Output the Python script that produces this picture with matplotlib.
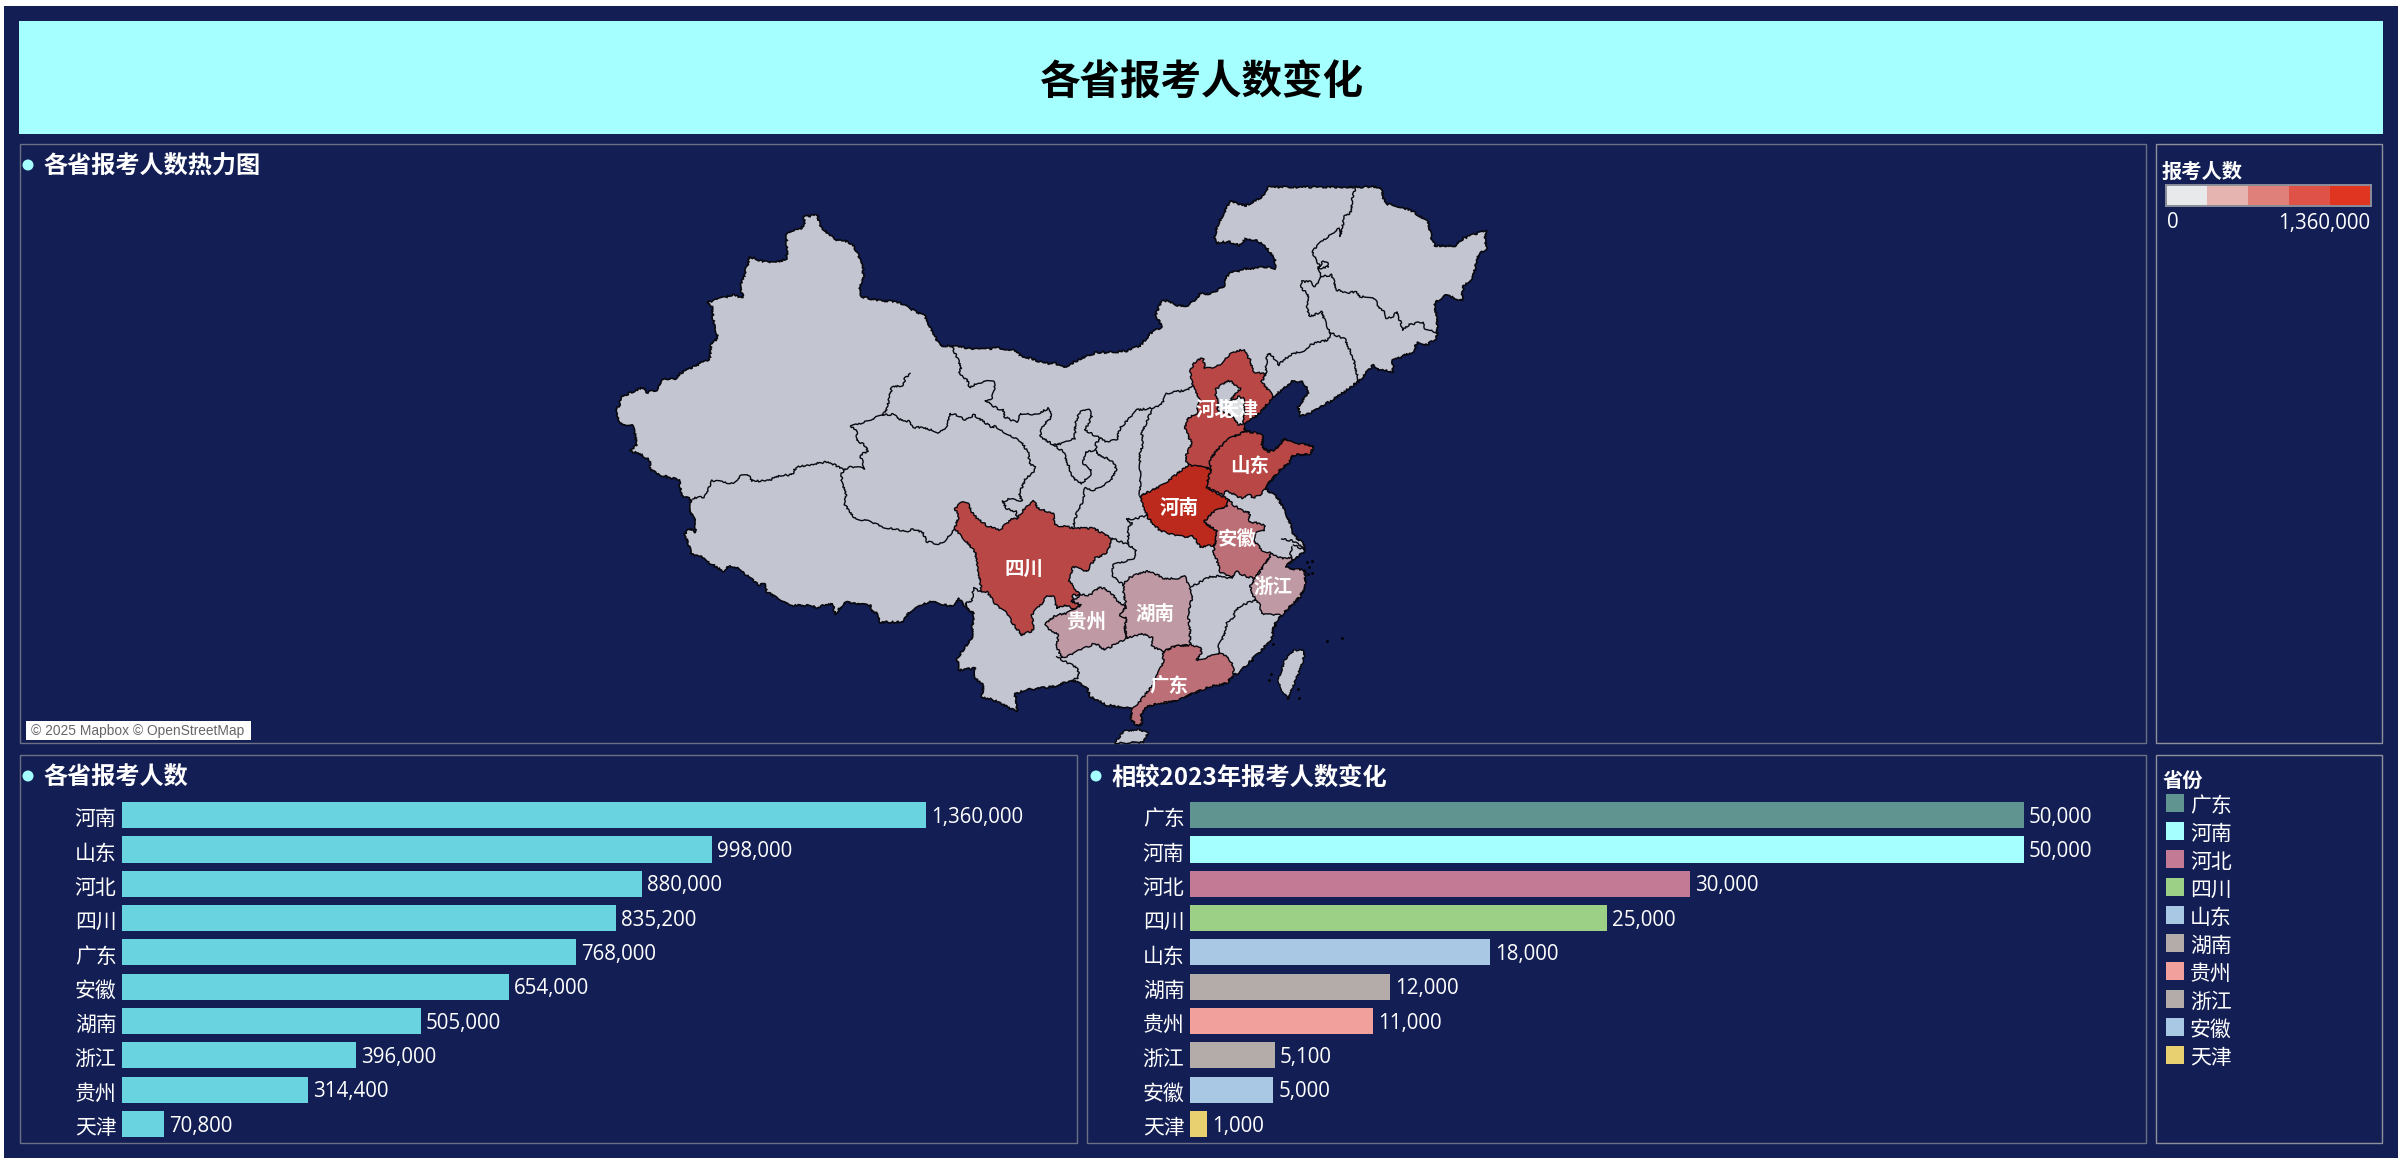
import numpy as np
import matplotlib
matplotlib.use('Agg')
import matplotlib.pyplot as plt
from matplotlib.colors import ListedColormap
from matplotlib.patches import Circle, Polygon, Rectangle
from matplotlib.transforms import ScaledTranslation

plt.rcParams['font.family'] = ['Noto Sans CJK SC', 'DejaVu Sans']

W, H = 2401, 1168
NAVY = '#131f54'
LINE = '#08080f'
LAND = '#c3c5d1'
CJK = ['Noto Sans CJK SC', 'DejaVu Sans']
NUM = ['Open Sans', 'Noto Sans CJK SC']
ROUGH = (0.9, 7, 14)  # hand traced borders are too smooth without this

# Data
provinces = ['河南', '山东', '河北', '四川', '广东', '安徽', '湖南', '浙江', '贵州', '天津']
applicants = [1360000, 998000, 880000, 835200, 768000, 654000, 505000, 396000, 314400, 70800]

change_provinces = ['广东', '河南', '河北', '四川', '山东', '湖南', '贵州', '浙江', '安徽', '天津']
change_values = [50000, 50000, 30000, 25000, 18000, 12000, 11000, 5100, 5000, 1000]
change_colors = ['#5f9490', '#a5ffff', '#c27a95', '#9dd087', '#a8c8e4',
                 '#b4aca8', '#f2a09c', '#b4aca8', '#a8c8e4', '#e8cf70']

heat_bins = ['#e8e9eb', '#e5b3b0', '#e0807a', '#de5248', '#e03520']
province_colors = {'河南': '#bb2a1c', '山东': '#b84746', '河北': '#b84746', '四川': '#b84746',
                   '广东': '#bc6f76', '安徽': '#bc6f76', '湖南': '#bf99a3', '浙江': '#bf99a3',
                   '贵州': '#bf99a3', '天津': '#dfe0e4'}
label_spots = {'河南': (1179, 508), '山东': (1250, 466), '河北': (1215, 410), '四川': (1024, 569),
               '广东': (1169, 686), '安徽': (1237, 539), '湖南': (1155, 614), '浙江': (1273, 587),
               '贵州': (1086, 622), '天津': (1239, 410)}


def sheet(x0, y0, pts):
    return [(x0 + a / 3, y0 + b / 3) for a, b in pts]


outline = (
    sheet(610, 180, [(122, 870), (118, 840), (95, 825), (58, 812), (80, 795), (72, 750), (66, 735), (35, 733),
                     (22, 710), (15, 690), (30, 675), (32, 652), (68, 635), (100, 622), (108, 638), (140, 630),
                     (155, 598), (195, 597), (210, 580), (280, 545), (298, 540), (303, 490), (318, 480), (323, 470),
                     (310, 420), (305, 380), (290, 368), (365, 345), (400, 352), (390, 325), (420, 230), (455, 243),
                     (500, 247), (530, 235), (530, 165), (540, 153), (570, 148), (585, 130), (582, 110), (622, 105),
                     (632, 140), (660, 165), (680, 180), (700, 180), (722, 190), (735, 205), (760, 255), (760, 290),
                     (748, 325), (755, 350), (810, 362), (860, 365), (900, 385)])
    + sheet(910, 180, [(45, 408), (60, 440), (90, 497), (125, 497), (165, 503), (220, 508), (265, 503), (320, 513),
                       (335, 530), (365, 535), (400, 550), (438, 550), (460, 563), (510, 537), (560, 517), (600, 517),
                       (650, 513), (690, 497), (720, 462), (755, 440), (737, 403), (755, 363), (775, 362), (800, 375),
                       (828, 380), (860, 355), (870, 340), (900, 342)])
    + sheet(1210, 180, [(42, 320), (42, 300), (60, 280), (100, 268), (160, 260), (195, 265), (195, 240), (170, 205),
                        (140, 180), (105, 178), (90, 197), (55, 185), (20, 190), (12, 172), (25, 130), (60, 62),
                        (105, 78), (165, 45), (175, 21), (513, 21), (520, 55), (530, 72), (570, 80), (605, 92),
                        (655, 125), (665, 175), (675, 197), (735, 197), (760, 175), (800, 160), (830, 153), (825, 180),
                        (830, 205), (805, 225), (790, 290), (760, 320), (755, 362), (705, 345), (672, 372), (682, 420),
                        (680, 475), (650, 495), (622, 485), (610, 515), (548, 542), (550, 575), (505, 570), (490, 555),
                        (445, 605), (390, 645), (360, 665), (330, 680), (290, 705), (270, 708), (265, 680), (295, 635),
                        (280, 607), (245, 605), (190, 650), (165, 680), (150, 700), (100, 730), (105, 755), (140, 758),
                        (160, 770), (155, 800), (175, 815), (195, 810), (225, 775), (250, 790), (312, 797), (300, 822),
                        (250, 825), (235, 850), (210, 870)])
    + sheet(1210, 470, [(180, 35), (165, 55), (205, 85), (240, 155), (245, 190), (285, 225), (283, 245), (250, 270),
                        (225, 290), (240, 298), (285, 300), (285, 350), (270, 380), (240, 410), (215, 435), (190, 470),
                        (185, 510), (150, 545), (120, 575), (85, 610), (70, 615), (50, 640), (0, 650)])
    + sheet(910, 470, [(850, 670), (825, 680), (790, 695), (745, 700), (705, 712), (692, 735), (697, 760), (680, 768),
                       (662, 745), (668, 718), (640, 712), (590, 705), (540, 680), (530, 650), (485, 630), (430, 650),
                       (345, 660), (315, 672), (322, 725), (300, 715), (250, 690), (215, 680), (220, 645), (195, 625),
                       (195, 595), (145, 600), (142, 565), (155, 545), (185, 505), (190, 430), (165, 408), (145, 385),
                       (125, 410), (60, 393), (0, 425)])
    + sheet(610, 470, [(878, 455), (810, 457), (805, 430), (785, 425), (780, 405), (740, 403), (705, 395), (675, 435),
                       (668, 400), (620, 412), (580, 405), (550, 408), (510, 388), (470, 365), (465, 342), (445, 345),
                       (415, 320), (375, 290), (355, 288), (343, 305), (300, 280), (265, 255), (245, 255), (225, 190),
                       (240, 175), (255, 188), (258, 150), (237, 125), (245, 90), (215, 75), (207, 30), (150, 15)])
)
taiwan = sheet(1210, 470, [(270, 537), (285, 548), (270, 600), (245, 660), (235, 690), (210, 650), (205, 625),
                           (225, 570), (245, 545)])
hainan = sheet(910, 470, [(615, 818), (640, 785), (680, 778), (715, 785), (700, 818)])
islands = sheet(1210, 470, [(290, 275), (305, 272), (298, 290), (295, 312), (305, 310), (350, 512), (395, 505),
                            (183, 612), (178, 630), (265, 658), (267, 685), (195, 465), (188, 522), (125, 570)])

borders = [
    sheet(610, 180, [(900, 580), (885, 595), (880, 615), (845, 622), (830, 690), (818, 705), (722, 740), (740, 750),
                     (740, 780), (770, 800), (772, 815), (750, 825), (757, 845), (765, 867), (745, 862), (720, 860),
                     (700, 870), (680, 858), (655, 845), (610, 852), (560, 862), (553, 870)]),
    sheet(610, 470, [(555, 0), (545, 15), (515, 15), (470, 33), (425, 33), (415, 15), (390, 18), (370, 40), (305, 32),
                     (285, 80), (248, 85)]),
    sheet(610, 470, [(705, -3), (695, 10), (695, 40), (708, 65), (705, 105), (735, 145), (780, 155), (815, 170),
                     (890, 185), (900, 180), (918, 178), (940, 190), (950, 215), (985, 222), (1005, 212), (1025, 190),
                     (1035, 178)]),
    sheet(610, 180, [(818, 705), (855, 703), (860, 715), (885, 722), (900, 725)])
    + sheet(910, 180, [(10, 742), (40, 742), (85, 757), (105, 750), (115, 730), (118, 700), (135, 703), (165, 720),
                       (192, 705), (250, 745), (255, 738), (300, 768), (335, 785), (355, 820), (360, 850), (375, 862)])
    + sheet(910, 470, [(370, 5), (345, 30), (328, 70), (335, 92), (300, 85), (278, 95), (290, 115), (318, 125),
                       (320, 145)]),
    sheet(910, 180, [(125, 497), (155, 565), (145, 575), (175, 605), (178, 622), (205, 608), (250, 602), (255, 630),
                     (243, 660), (225, 660), (260, 685), (280, 690), (283, 710), (320, 728), (330, 700), (375, 705),
                     (415, 685), (425, 710), (392, 745), (392, 770), (430, 795), (460, 790), (495, 775), (495, 730),
                     (510, 695), (538, 690), (545, 710), (525, 750), (570, 775), (590, 785), (620, 780), (630, 745),
                     (680, 690), (720, 685), (735, 680), (755, 675), (770, 640), (830, 630), (850, 620)]),
    sheet(910, 180, [(430, 795), (460, 815), (480, 870)])
    + sheet(910, 470, [(490, 25), (515, 40), (540, 15), (545, 0)])
    + sheet(910, 180, [(520, 850), (525, 815), (555, 812)]),
    sheet(910, 180, [(570, 775), (558, 790), (558, 820), (610, 845), (620, 870)])
    + sheet(910, 470, [(600, 35), (550, 60), (525, 55), (520, 90), (500, 130), (490, 170)]),
    sheet(910, 180, [(725, 690), (695, 760), (700, 790), (690, 820), (690, 870)])
    + sheet(910, 470, [(690, 40), (690, 75)]),
    sheet(910, 470, [(712, 135), (680, 145), (650, 148), (665, 160), (655, 175), (655, 225), (680, 240), (670, 265),
                     (610, 285), (605, 315), (640, 345)]),
    sheet(910, 470, [(607, 205), (655, 225)]),
    sheet(910, 470, [(845, 350), (900, 320), (935, 318), (960, 325), (970, 320)]),
    sheet(1210, 470, [(135, 390), (90, 408), (75, 425), (70, 445), (50, 460), (45, 490), (25, 530), (25, 552)]),
    sheet(910, 470, [(440, 560), (465, 575), (505, 595), (505, 625), (485, 630)]),
    sheet(910, 470, [(215, 365), (190, 355), (185, 395), (165, 400), (185, 430)]),
    sheet(1210, 470, [(215, 207), (245, 212), (285, 235)]),
    sheet(1210, 470, [(250, 225), (285, 240)]),
    sheet(1210, 470, [(245, 262), (240, 245), (248, 232)]),
    sheet(1210, 180, [(437, 21), (425, 60), (425, 95), (403, 110), (392, 170), (385, 145), (340, 180), (305, 215),
                      (325, 250), (330, 265), (355, 260), (350, 245), (340, 243), (325, 262), (335, 290), (315, 320),
                      (300, 305), (275, 305), (270, 320), (295, 345), (290, 380), (300, 410), (335, 395), (350, 440),
                      (360, 458), (355, 480), (305, 492), (280, 512), (240, 525), (205, 555), (190, 530), (178, 520),
                      (170, 530), (168, 580)]),
    sheet(1210, 180, [(335, 290), (365, 285), (380, 330), (415, 338), (440, 335), (450, 350), (480, 350), (500, 365),
                      (505, 385), (525, 395), (530, 415), (550, 410), (560, 395), (580, 450), (595, 435), (640, 425),
                      (645, 445), (682, 460)]),
    sheet(1210, 180, [(360, 458), (405, 478), (430, 535), (445, 600), (450, 605)]),
]

shapes = {
    '河北': sheet(910, 180, [(835, 852), (825, 835), (845, 790), (825, 745), (832, 715), (860, 700), (870, 655),
                             (850, 625), (840, 570), (860, 540), (880, 535), (885, 565), (900, 565)])
    + sheet(1210, 180, [(30, 553), (70, 515), (100, 508), (120, 540), (130, 578), (168, 580), (155, 605), (190, 650),
                        (165, 680), (150, 700), (100, 730), (105, 755), (60, 775), (20, 810), (0, 840), (3, 867)])
    + [(1189, 465)],
    '山东': sheet(1210, 180, [(105, 755), (140, 758), (160, 770), (155, 800), (175, 815), (195, 810), (225, 775),
                              (250, 790), (312, 797), (300, 822), (250, 825), (235, 850), (210, 870)])
    + sheet(1210, 470, [(180, 35), (165, 55), (150, 75), (130, 85), (115, 72), (95, 85), (75, 75), (48, 60),
                        (40, 75), (-12, 51), (3, 0)])
    + sheet(1210, 180, [(0, 840), (20, 810), (60, 775)]),
    '河南': [(1211, 469), (1206, 487), (1229, 500), (1227, 507), (1213, 512), (1204, 522), (1217, 531), (1215, 545),
             (1200, 547), (1193, 535), (1188, 538), (1160, 531), (1148, 518), (1140, 496), (1165, 484), (1185, 467),
             (1189, 465)],
    '四川': sheet(910, 470, [(510, 375), (490, 375), (485, 395), (515, 405), (490, 420), (470, 405), (440, 415),
                             (430, 378), (410, 375), (395, 400), (365, 435), (372, 480), (335, 495), (315, 470),
                             (290, 430), (255, 400), (230, 365), (215, 365), (205, 300), (195, 245), (135, 175),
                             (145, 140), (135, 115), (155, 97), (175, 102), (190, 135), (235, 170), (270, 180),
                             (300, 150), (320, 145), (345, 115), (370, 92), (385, 115), (430, 130), (432, 165),
                             (500, 175), (550, 175), (607, 205), (590, 250), (555, 265), (530, 305), (490, 290),
                             (475, 330)]),
    '贵州': sheet(910, 470, [(510, 375), (540, 375), (570, 350), (600, 365), (625, 395), (650, 410), (630, 435),
                             (650, 445), (645, 470), (650, 505), (620, 520), (585, 540), (555, 520), (500, 545),
                             (455, 565), (440, 530), (445, 495), (415, 475), (405, 460), (440, 435), (470, 430),
                             (490, 420), (515, 405), (485, 395)]),
    '湖南': sheet(910, 470, [(640, 345), (655, 325), (700, 305), (725, 305), (760, 325), (800, 325), (825, 320),
                             (835, 345), (850, 380), (840, 400), (835, 440), (840, 480), (840, 525), (790, 530),
                             (760, 545), (725, 530), (730, 505), (695, 490), (650, 505), (645, 470), (650, 445),
                             (630, 435), (650, 410), (640, 370)]),
    '安徽': sheet(1210, 470, [(57, 90), (70, 105), (100, 125), (118, 125), (118, 155), (145, 160), (165, 165),
                              (165, 180), (135, 190), (130, 210), (155, 240), (185, 250), (160, 290), (135, 325),
                              (110, 320), (80, 305), (65, 325), (58, 318), (30, 305), (20, 270), (10, 245), (15, 225),
                              (21, 183), (-18, 156), (10, 125), (50, 110)]),
    '浙江': sheet(1210, 470, [(135, 325), (160, 290), (185, 250), (215, 265), (245, 262), (250, 270), (225, 290),
                              (240, 298), (285, 300), (285, 350), (270, 380), (240, 410), (215, 435), (185, 435),
                              (155, 430), (150, 405), (135, 390), (120, 350)]),
    '广东': sheet(910, 470, [(760, 545), (790, 530), (840, 525), (870, 530), (875, 550), (860, 570), (900, 560)])
    + sheet(1210, 470, [(25, 550), (55, 560), (70, 590), (70, 615), (50, 640), (0, 650)])
    + sheet(910, 470, [(850, 670), (825, 680), (790, 695), (745, 700), (705, 712), (692, 735), (697, 760), (680, 768),
                       (662, 745), (668, 718), (690, 695), (730, 640), (745, 610), (760, 575)]),
}
tianjin = sheet(1210, 180, [(60, 665), (85, 650), (100, 655), (105, 690), (100, 730), (85, 735), (70, 715), (50, 700)])
beijing = sheet(1210, 180, [(20, 655), (15, 630), (55, 600), (92, 625), (70, 650), (60, 665), (50, 700), (25, 690)])


def px_axes(x0, y0, x1, y1):
    ax = fig.add_axes([x0 / W, 1 - y1 / H, (x1 - x0) / W, (y1 - y0) / H])
    ax.patch.set_alpha(0)
    return ax


def frame(x0, y0, x1, y1, color='#6b7085'):
    page.add_patch(Rectangle((x0, y0), x1 - x0, y1 - y0, fc='none', ec=color, lw=1.0))


def heading(x, y, text, size=17.4):
    page.add_patch(Circle((x, y), 5.5, fc='#a5ffff', ec='none'))
    page.text(x + 15, y + 2, text, color='white', fontsize=size, fontweight='bold', va='center', family=CJK)


def land(points, color, lw=1.0):
    patch = Polygon(points, fc=color, ec=LINE, lw=lw)
    patch.set_sketch_params(*ROUGH)
    page.add_patch(patch)


def bar_panel(x1, zero, full, top, bottom, names, values, colors, vmax):
    ax = px_axes(zero, top, x1, bottom)
    ax.barh(range(len(values)), values, height=0.758, color=colors)
    ax.set_xlim(0, vmax * (x1 - zero) / (full - zero))
    ax.set_ylim(len(values) - 0.5, -0.5)
    ax.set_yticks(range(len(names)), names, color='white', fontsize=15)
    ax.tick_params(axis='y', length=0, pad=4)
    nudge = ScaledTranslation(0, -1.5 / 100, fig.dpi_scale_trans)
    for t in ax.get_yticklabels():
        t.set_transform(t.get_transform() + nudge)
    ax.xaxis.set_visible(False)
    for s in ax.spines.values():
        s.set_visible(False)
    for i, v in enumerate(values):
        ax.annotate(f'{v:,}', (v, i), xytext=(3.6, -1.5), textcoords='offset points', color='white',
                    fontsize=14.8, va='center', family=NUM)
    return ax


fig = plt.figure(figsize=(W / 100, H / 100), dpi=100, facecolor='white')
page = fig.add_axes([0, 0, 1, 1])
page.set_xlim(0, W)
page.set_ylim(H, 0)
page.axis('off')

page.add_patch(Rectangle((4, 6), 2394, 1152, fc=NAVY, ec='none'))
page.add_patch(Rectangle((19, 21), 2364, 113, fc='#a5ffff', ec='none'))
page.text(1201, 82, '各省报考人数变化', color='black', fontsize=29.2, fontweight='bold',
          ha='center', va='center', family=CJK)

frame(20, 144, 2146, 743)
frame(2156, 144, 2382, 743, '#8f909c')
frame(20, 755, 1077, 1143)
frame(1087, 755, 2146, 1143)
frame(2156, 755, 2382, 1143, '#8f909c')

heading(28, 165, '各省报考人数热力图')
heading(28, 776, '各省报考人数')
heading(1096, 776, '相较2023年报考人数变化', 17.5)

# map
land(outline, LAND, 1.2)
land(taiwan, LAND, 1.0)
land(hainan, LAND, 1.0)
page.scatter(*zip(*islands), s=4, c='black', linewidths=0)
for line in borders:
    seg, = page.plot(*zip(*line), color=LINE, lw=1.0, solid_joinstyle='round')
    seg.set_sketch_params(*ROUGH)
for name, shape in shapes.items():
    land(shape, province_colors[name])
land(beijing, LAND)
land(tianjin, province_colors['天津'])
for name, (x, y) in label_spots.items():
    page.text(x, y, name, color='white', fontsize=14, fontweight='bold', ha='center', va='center', family=CJK)

page.add_patch(Rectangle((26, 721), 225, 19, fc='white', ec='none'))
page.text(31, 730.5, '© 2025 Mapbox © OpenStreetMap', color='#666666', fontsize=9.9, va='center',
          family=['Liberation Sans'])

# heat legend
page.text(2162, 171.5, '报考人数', color='white', fontsize=14.6, fontweight='bold', va='center', family=CJK)
cax = px_axes(2166, 185, 2371, 206)
edges = np.linspace(0, max(applicants), len(heat_bins) + 1)
cax.pcolormesh(edges, [0, 1], [range(len(heat_bins))], cmap=ListedColormap(heat_bins))
cax.set_xticks([])
cax.set_yticks([])
for s in cax.spines.values():
    s.set_color('#8a8d9a')
    s.set_linewidth(1.4)
page.text(2167, 223, '0', color='white', fontsize=14.8, va='center', family=NUM)
page.text(2370, 223, f'{max(applicants):,}', color='white', fontsize=14.8, va='center', ha='right', family=NUM)

# bars
bar_panel(1077, 122, 926, 798, 1141.3, provinces, applicants, '#6ad3e0', 1360000)
bar_panel(2146, 1190, 2024, 798, 1141.3, change_provinces, change_values, change_colors, 50000)

# province legend
page.text(2163, 780, '省份', color='white', fontsize=14.6, fontweight='bold', va='center', family=CJK)
for i, (name, color) in enumerate(zip(change_provinces, change_colors)):
    page.add_patch(Rectangle((2166, 794 + 28 * i), 18, 18, fc=color, ec='none'))
    page.text(2190, 805.5 + 28 * i, name, color='white', fontsize=15, va='center', family=CJK)

fig.savefig('out.png', dpi=100)
